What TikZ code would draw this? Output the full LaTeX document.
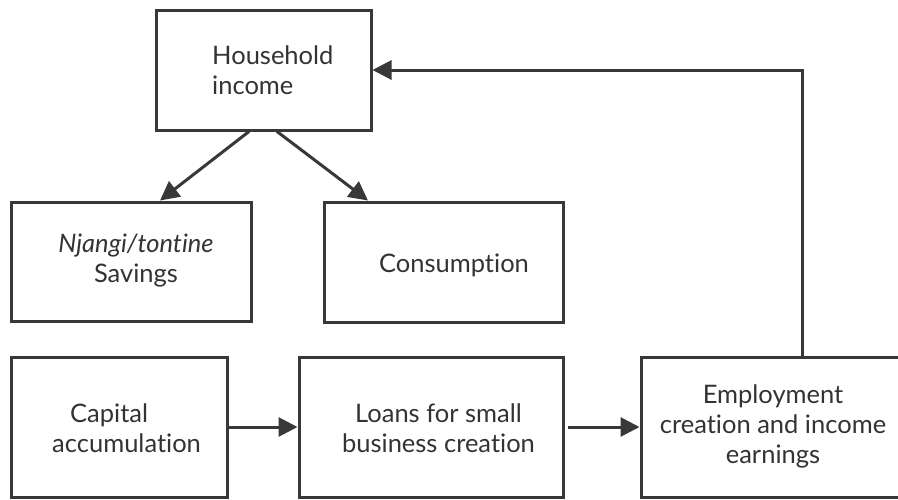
\documentclass[tikz,border=0pt]{standalone}
\usepackage{fontspec}
\setmainfont{Lato}[Ligatures=NoCommon]
\usetikzlibrary{arrows.meta}
\definecolor{ink}{HTML}{383838}
\definecolor{txtc}{HTML}{333333}
\tikzset{
  box/.style={draw=ink, line width=3pt, rectangle, inner sep=0pt},
  txt/.style={text=txtc, inner sep=0pt, font=\fontsize{25.5}{30}\selectfont},
  arr/.style={draw=ink, line width=3pt, -{Triangle[length=19pt,width=19pt]}},
}
\begin{document}
\begin{tikzpicture}[x=1pt,y=-1pt]
\useasboundingbox (0,0) rectangle (898,499);
\clip (0,0) rectangle (898,499);
% boxes
\node[box, minimum width=215pt, minimum height=120pt] (hh) at (263.5,70) {};
\node[box, minimum width=240pt, minimum height=119pt] (nj) at (131,261.5) {};
\node[box, minimum width=239pt, minimum height=120pt] (co) at (443.5,262) {};
\node[box, minimum width=216pt, minimum height=140pt] (ca) at (119,427) {};
\node[box, minimum width=264pt, minimum height=140pt] (lo) at (431,427) {};
\node[box, minimum width=280pt, minimum height=140pt] (em) at (781,427) {};
% texts (anchor = baseline of the last line)
\node[txt, align=left, anchor=base west] (hht) at (212,94) {Household\\income};
\node[txt, align=center, anchor=base] (njt) at (136,282) {\textit{Njangi/tontine}\\Savings};
\node[txt, anchor=base] (cot) at (454,272) {Consumption};
\node[txt, align=left, anchor=base west] (cat) at (52,452) {\hspace*{18pt}Capital\\accumulation};
\node[txt, align=center, anchor=base] (lot) at (438.5,452) {Loans for small\\business creation};
\node[txt, align=center, anchor=base] (emt) at (773,463) {Employment\\creation and income\\earnings};
% connectors
\coordinate (fb) at (802,70);
\draw[arr] ([xshift=-14.5pt]hh.south) -- ([xshift=29pt]nj.north);
\draw[arr] ([xshift=13.5pt]hh.south) -- ([xshift=-75.5pt]co.north);
\draw[arr] (ca.east) -- (lo.west);
\draw[arr] ([xshift=3pt]lo.east) -- (em.west);
\draw[arr] (em.north -| fb) -- (fb) -- (hh.east);
\end{tikzpicture}
\end{document}
